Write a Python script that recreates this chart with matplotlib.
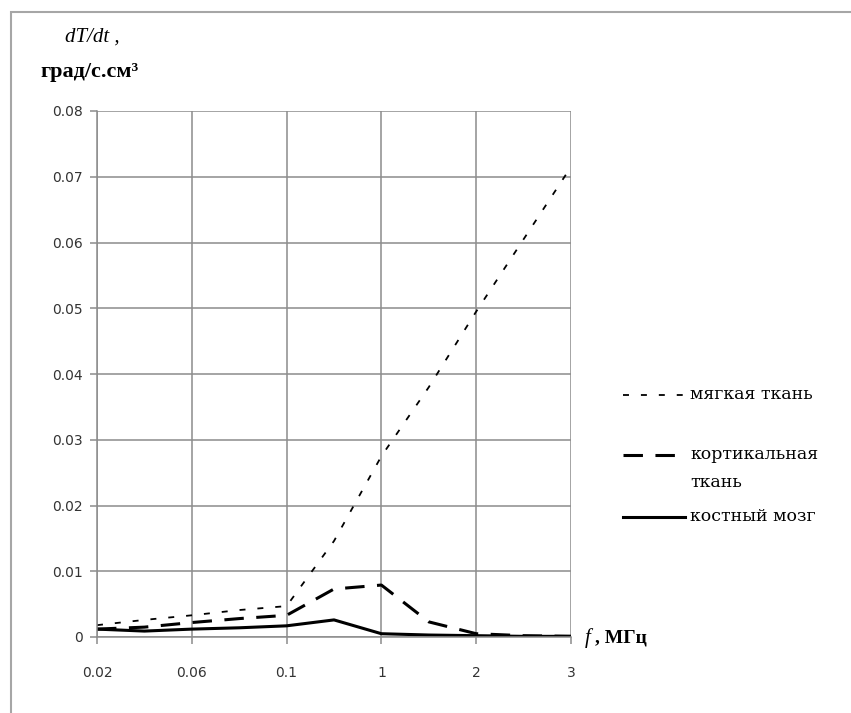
import numpy as np
import matplotlib
matplotlib.use('Agg')
import matplotlib.pyplot as plt
from matplotlib.patches import Rectangle
from matplotlib.lines import Line2D

plt.rcParams['lines.scale_dashes'] = False

# frequency categories (MHz), every second one is labelled
freq = ['0.02', '0.04', '0.06', '0.08', '0.1', '0.5', '1', '1.5', '2', '2.5', '3']
soft = [0.0018, 0.0026, 0.0033, 0.0041, 0.0047, 0.0146, 0.0275, 0.0380, 0.0495, 0.0605, 0.0715]
cortical = [0.0012, 0.0015, 0.0022, 0.0028, 0.0033, 0.0073, 0.0079, 0.0023, 0.0005, 0.0002, 0.0001]
marrow = [0.0012, 0.0009, 0.0012, 0.0014, 0.0017, 0.0026, 0.0005, 0.0003, 0.0002, 0.0001, 0.0001]
series_names = ['мягкая ткань', 'кортикальная\nткань', 'костный мозг']
yticks = [0, 0.01, 0.02, 0.03, 0.04, 0.05, 0.06, 0.07, 0.08]
ytick_labels = ['0', '0.01', '0.02', '0.03', '0.04', '0.05', '0.06', '0.07', '0.08']

W, H = 851, 713
grid_col = '#8c8c8c'

styles = [dict(color='black', lw=1.3, dashes=(4.3, 8.6)),
          dict(color='black', lw=2.2, dashes=(14, 9)),
          dict(color='black', lw=2.2, linestyle='-')]

fig = plt.figure(figsize=(W / 100, H / 100), dpi=100)
ax = fig.add_axes([97 / W, 1 - 637 / H, (571 - 97) / W, (637 - 111) / H])

x = np.arange(len(freq))
for vals, st in zip([soft, cortical, marrow], styles):
    ax.plot(x, vals, **st)

ax.set_xlim(0, len(freq) - 1)
ax.set_ylim(0, 0.08)
ax.set_xticks(x[::2])
ax.set_xticklabels(freq[::2])
ax.set_yticks(yticks)
ax.set_yticklabels(ytick_labels)

ax.grid(True, color=grid_col, lw=1.1)
ax.set_axisbelow(True)
for s in ['top', 'right']:
    ax.spines[s].set_visible(False)
for s in ['left', 'bottom']:
    ax.spines[s].set_color(grid_col)
    ax.spines[s].set_linewidth(1.1)
ax.tick_params(length=5, width=1.1, color=grid_col, labelsize=10, labelcolor='#333333')
ax.tick_params(axis='x', pad=16)
ax.tick_params(axis='y', pad=5)

# legend drawn by hand: the entries are not evenly spaced in the original
legend_y = [395, 455, 517]
for st, name, ly in zip(styles, series_names, legend_y):
    fy = 1 - ly / H
    fig.add_artist(Line2D([623 / W, 685 / W], [fy, fy], transform=fig.transFigure, **st))
    fig.text(690 / W, 1 - (ly - 9) / H, name, family='DejaVu Serif', size=12.5,
             va='top', linespacing=1.85)

# axis titles
fig.text(65 / W, 1 - 37 / H, 'dT/dt ,', style='italic', family='Liberation Serif',
         size=15, va='center')
fig.text(40 / W, 1 - 72 / H, 'град/с.см³', weight='bold', family='Liberation Serif',
         size=16, va='center')
fig.text(585 / W, 1 - 638 / H, 'f', style='italic', family='Liberation Serif',
         size=15, va='center')
fig.text(595 / W, 1 - 638 / H, ', МГц', weight='bold', family='Liberation Serif',
         size=14, va='center')

# outer chart frame (right and bottom edges are cut off)
fig.add_artist(Rectangle((11 / W, -0.1), 1.2, 1.1 - 12 / H, transform=fig.transFigure,
                         fill=False, edgecolor='#a6a6a6', lw=1.5))

fig.savefig('out.png', dpi=100)
